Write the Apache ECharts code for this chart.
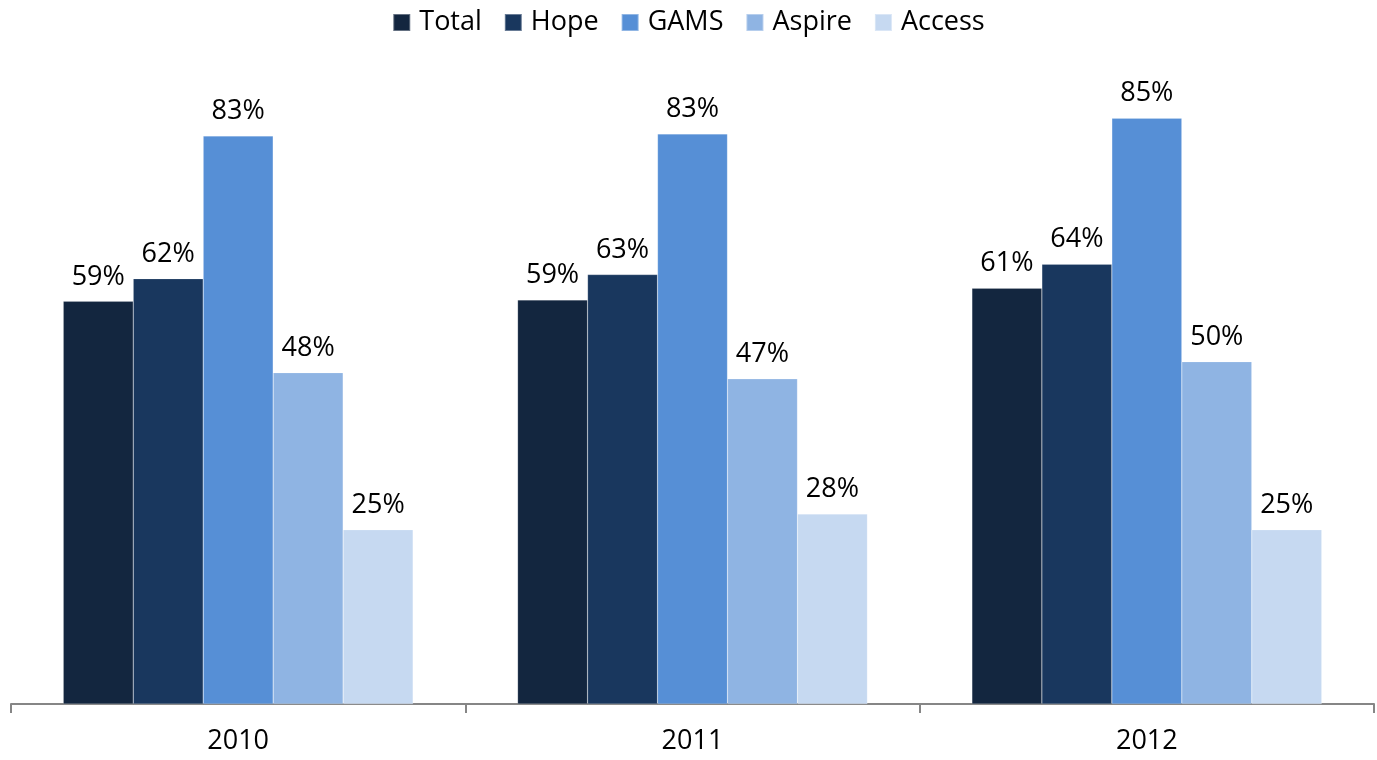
<!DOCTYPE html>
<html><head><meta charset="utf-8">
<script src="https://cdn.jsdelivr.net/npm/echarts@6/dist/echarts.min.js"></script>
<style>html,body{margin:0;padding:0;background:#fff}#c{width:1377px;height:760px}</style>
</head><body><div id="c"></div>
<script>
const categories = ['2010', '2011', '2012'];
const seriesNames = ['Total', 'Hope', 'GAMS', 'Aspire', 'Access'];
const total = [58.7, 58.9, 60.6];
const hope = [62.0, 62.6, 64.1];
const gams = [82.8, 83.1, 85.4];
const aspire = [48.3, 47.4, 49.9];
const access = [25.4, 27.7, 25.4];
const colors = ['#13263f', '#19375e', '#568fd6', '#8fb4e3', '#c6d9f1'];
const values = [total, hope, gams, aspire, access];

const chart = echarts.init(document.getElementById('c'));
chart.setOption({
  animation: false,
  textStyle: { fontFamily: 'Open Sans' },
  legend: {
    top: 4, left: 'center', itemWidth: 17, itemHeight: 17, itemGap: 22,
    icon: 'rect',
    textStyle: { fontSize: 27, color: '#000', fontFamily: 'Open Sans', padding: [0, 0, 0, 4] },
    data: seriesNames
  },
  grid: { left: 11, right: 3, top: 18, bottom: 56 },
  xAxis: {
    type: 'category', data: categories,
    axisLine: { lineStyle: { color: '#868686', width: 2 } },
    axisTick: { show: true, length: 9, lineStyle: { color: '#868686', width: 2 } },
    axisLabel: { fontSize: 27, color: '#000', margin: 24, fontFamily: 'Open Sans' }
  },
  yAxis: { type: 'value', min: 0, max: 100, show: false, splitLine: { show: false } },
  series: seriesNames.map((n, i) => ({
    name: n, type: 'bar', data: values[i],
    barGap: '0%', barCategoryGap: '23%',
    itemStyle: { color: colors[i], borderColor: 'rgba(255,255,255,0.35)', borderWidth: 0.5 },
    label: {
      show: true, position: 'top', distance: 11, fontSize: 27, color: '#000',
      fontFamily: 'Open Sans',
      formatter: p => Math.round(p.value) + '%'
    }
  }))
});
</script></body></html>
